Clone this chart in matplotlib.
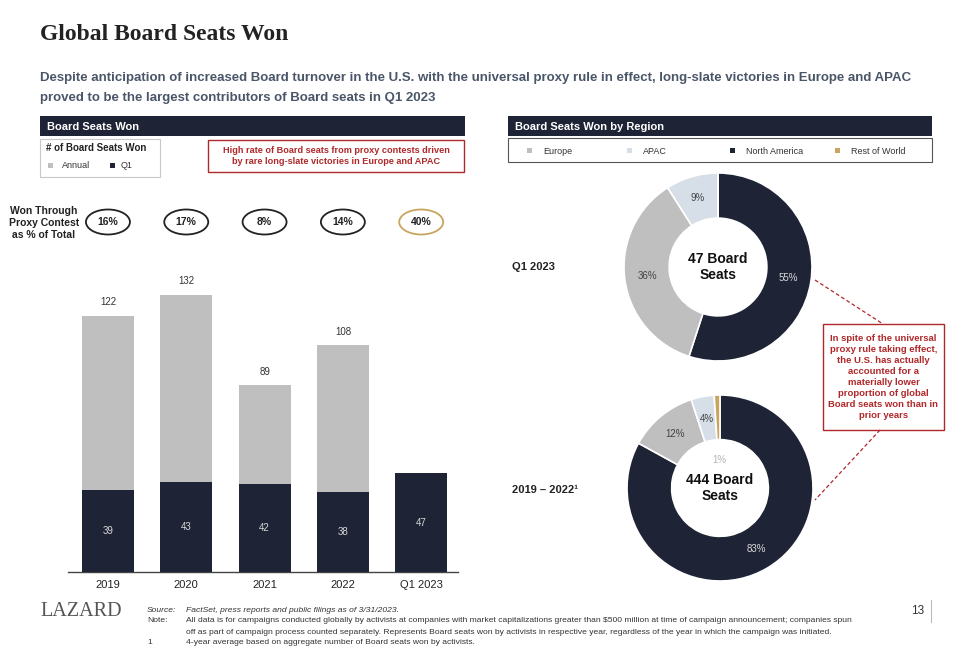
import matplotlib
matplotlib.use("Agg")
import matplotlib.pyplot as plt
from matplotlib.patches import Rectangle, Ellipse
import numpy as np

plt.rcParams['font.family'] = ['Liberation Sans Narrow', 'Liberation Sans', 'DejaVu Sans']

# data
years = ["2019", "2020", "2021", "2022", "Q1 2023"]
annual = [122, 132, 89, 108, None]
q1 = [39, 43, 42, 38, 47]
proxy_pct = ["16%", "17%", "8%", "14%", "40%"]

regions = ["North America", "Europe", "APAC", "Rest of World"]
q1_2023_share = [55, 36, 9, 0]
y2019_2022_share = [83, 12, 4, 1]
legend_order = ["Europe", "APAC", "North America", "Rest of World"]

NAVY = "#1e2336"
GREY = "#bfbfbf"
APAC_C = "#d6dee7"
GOLD = "#c8a55e"
RED = "#b0282a"
region_colors = {"North America": NAVY, "Europe": GREY, "APAC": APAC_C, "Rest of World": GOLD}

W, H = 960, 653
fig = plt.figure(figsize=(W / 100, H / 100), dpi=100)
fig.patch.set_facecolor("white")

# overlay in pixel coordinates for the slide furniture
ov = fig.add_axes([0, 0, 1, 1])
ov.set_xlim(0, W)
ov.set_ylim(H, 0)
ov.axis("off")

ov.text(40, 35, "Global Board Seats Won", family=["Liberation Serif"], fontsize=17,
        fontweight="bold", color="#222222", va="center")
ov.text(40, 78, "Despite anticipation of increased Board turnover in the U.S. with the universal proxy rule in effect, long-slate victories in Europe and APAC",
        fontsize=9.5, fontweight="bold", color="#4a5668", va="center")
ov.text(40, 98, "proved to be the largest contributors of Board seats in Q1 2023",
        fontsize=9.5, fontweight="bold", color="#4a5668", va="center")

# header bars
for x0, x1, label in [(40, 465, "Board Seats Won"), (508, 932, "Board Seats Won by Region")]:
    ov.add_patch(Rectangle((x0, 116), x1 - x0, 20, facecolor=NAVY, edgecolor="none"))
    ov.text(x0 + 7, 126.5, label, color="white", fontsize=8, fontweight="bold", va="center")

# left legend box
ov.add_patch(Rectangle((40, 139), 120, 38, facecolor="white", edgecolor="#c8c8c8", lw=0.8))
ov.text(46, 148, "# of Board Seats Won", fontsize=7, fontweight="bold", color="#222222", va="center")
ov.add_patch(Rectangle((48, 163), 5, 5, facecolor=GREY, edgecolor="none"))
ov.text(62, 166, "Annual", fontsize=6.5, color="#333333", va="center")
ov.add_patch(Rectangle((110, 163), 5, 5, facecolor=NAVY, edgecolor="none"))
ov.text(121, 166, "Q1", fontsize=6.5, color="#333333", va="center")

# red callout left
ov.add_patch(Rectangle((208, 140), 256, 32, facecolor="white", edgecolor=RED, lw=1))
ov.text(336, 156, "High rate of Board seats from proxy contests driven\nby rare long-slate victories in Europe and APAC",
        fontsize=6.6, fontweight="bold", color=RED, ha="center", va="center", linespacing=1.25)

ov.text(44, 223, "Won Through\nProxy Contest\nas % of Total", fontsize=7.5, fontweight="bold",
        color="#222222", ha="center", va="center", linespacing=1.25)

# right legend box
ov.add_patch(Rectangle((508, 138), 424, 24, facecolor="white", edgecolor="#555555", lw=0.8))
for name, xs in zip(legend_order, [527, 627, 730, 835]):
    ov.add_patch(Rectangle((xs, 148), 5, 5, facecolor=region_colors[name], edgecolor="none"))
    ov.text(xs + 16, 151, name, fontsize=6.5, color="#333333", va="center")

ov.text(512, 267, "Q1 2023", fontsize=8, fontweight="bold", color="#222222", va="center")
ov.text(512, 490, "2019 – 2022¹", fontsize=8, fontweight="bold", color="#222222", va="center")

# red callout right
ov.add_patch(Rectangle((823, 324), 121, 106, facecolor="white", edgecolor=RED, lw=1))
ov.text(883.5, 377, "In spite of the universal\nproxy rule taking effect,\nthe U.S. has actually\naccounted for a\nmaterially lower\nproportion of global\nBoard seats won than in\nprior years",
        fontsize=6.8, fontweight="bold", color=RED, ha="center", va="center", linespacing=1.28)
ov.plot([815, 883], [280, 324], color=RED, lw=0.9, ls=(0, (3, 2)))
ov.plot([880, 815], [430, 500], color=RED, lw=0.9, ls=(0, (3, 2)))

# footer
ov.text(40, 611, "LAZARD", family=["Liberation Serif"], fontsize=14.5, color="#555555", va="center")
fs = 6.1
ov.text(147, 610, "Source:", fontsize=fs, style="italic", color="#333333", va="center")
ov.text(186, 610, "FactSet, press reports and public filings as of 3/31/2023.", fontsize=fs,
        style="italic", color="#333333", va="center")
ov.text(147, 621, "Note:", fontsize=fs, color="#333333", va="center")
ov.text(186, 621, "All data is for campaigns conducted globally by activists at companies with market capitalizations greater than $500 million at time of campaign announcement; companies spun",
        fontsize=fs, color="#333333", va="center")
ov.text(186, 632, "off as part of campaign process counted separately. Represents Board seats won by activists in respective year, regardless of the year in which the campaign was initiated.",
        fontsize=fs, color="#333333", va="center")
ov.text(147, 643, "1", fontsize=fs, color="#333333", va="center")
ov.text(186, 643, "4-year average based on aggregate number of Board seats won by activists.",
        fontsize=fs, color="#333333", va="center")
ov.text(911, 611, "13", fontsize=8.5, color="#333333", va="center")
ov.plot([931, 931], [600, 622], color="#bbbbbb", lw=0.8)

# bar chart
bx0, bx1, by0, by1 = 68, 458, 572, 200
ax = fig.add_axes([bx0 / W, (H - by0) / H, (bx1 - bx0) / W, (by0 - by1) / H])
x = np.arange(len(years))
ymax = 177
ax.set_xlim(-0.51, 4.47)
ax.set_ylim(0, ymax)
bw = 0.665
ann_vals = [a if a is not None else 0 for a in annual]
ax.bar(x, ann_vals, width=bw, color=GREY, zorder=2)
ax.bar(x, q1, width=bw, color=NAVY, zorder=3)
for i in range(len(years)):
    if annual[i] is not None:
        ax.text(x[i], annual[i] + 4, str(annual[i]), ha="center", va="bottom", fontsize=7, color="#333333")
    ax.text(x[i], q1[i] / 2, str(q1[i]), ha="center", va="center", fontsize=7, color="#d8d8d8", zorder=4)

# proxy contest ovals, in data units from the same axes
px_per_x = (bx1 - bx0) / (4.47 + 0.51)
px_per_y = (by0 - by1) / ymax
oy = (by0 - 222) / px_per_y
for i, p in enumerate(proxy_pct):
    ec = GOLD if i == len(proxy_pct) - 1 else "#222222"
    ax.add_patch(Ellipse((x[i], oy), 44 / px_per_x, 25 / px_per_y, facecolor="white",
                         edgecolor=ec, lw=1.3, clip_on=False))
    ax.text(x[i], oy, p, ha="center", va="center", fontsize=7.5, fontweight="bold", color="#222222")

for s in ["top", "right", "left"]:
    ax.spines[s].set_visible(False)
ax.spines["bottom"].set_color("#444444")
ax.spines["bottom"].set_linewidth(1)
ax.set_yticks([])
ax.set_xticks(x)
ax.set_xticklabels(years, fontsize=8, color="#222222")
ax.tick_params(axis="x", length=0, pad=6)
ax.patch.set_alpha(0)


def donut(cx, cy, r, shares, center_text):
    half = 105
    dax = fig.add_axes([(cx - half) / W, (H - cy - half) / H, 2 * half / W, 2 * half / H])
    R = half / r
    vals = [s for s in shares]
    cols = [region_colors[n] for n in regions]
    dax.pie(vals, colors=cols, startangle=90, counterclock=False, radius=1,
            wedgeprops=dict(width=0.48, edgecolor="white", linewidth=1.2))
    dax.set_xlim(-R, R)
    dax.set_ylim(-R, R)
    dax.set_aspect("equal")
    total = sum(vals)
    start = 90.0
    for name, v in zip(regions, vals):
        if v <= 0:
            continue
        mid = np.deg2rad(start - 360 * v / total / 2)
        start -= 360 * v / total
        rr = 0.76 if v >= 2 else 0.3
        col = "#d8d8d8" if name == "North America" else "#444444"
        if v < 2:
            col = "#b5b5b5"
        dax.text(rr * np.cos(mid), rr * np.sin(mid), f"{v}%", ha="center", va="center",
                 fontsize=7, color=col)
    dax.text(0, 0, center_text, ha="center", va="center", fontsize=10, fontweight="bold",
             color="#111111", linespacing=1.1)


donut(718, 267, 94, q1_2023_share, "47 Board\nSeats")
donut(720, 488, 93, y2019_2022_share, "444 Board\nSeats")

fig.savefig("out.png", dpi=100, facecolor="white")
